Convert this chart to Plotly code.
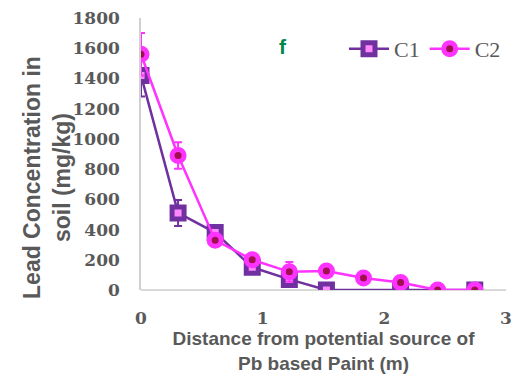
import plotly.graph_objects as go

distance_m = [0.0, 0.3048, 0.6096, 0.9144, 1.2192, 1.524, 1.8288, 2.1336, 2.4384, 2.7432]
c1_values = [1420, 510, 380, 150, 70, 0, None, 0, None, 0]
c1_errors = [140, 86, 20, 20, 20, 0, 0, 0, 0, 0]
c2_values = [1560, 890, 330, 200, 120, 125, 80, 50, 0, 0]
c2_errors = [140, 88, 20, 20, 65, 15, 10, 10, 0, 0]
y_ticks = [0, 200, 400, 600, 800, 1000, 1200, 1400, 1600, 1800]
x_ticks = [0, 1, 2, 3]

PURPLE = "#7030A0"
MAGENTA = "#FF33FF"
GREY = "#595959"

fig = go.Figure()
fig.add_trace(go.Scatter(
    x=distance_m, y=c1_values, name="C1", mode="lines+markers", connectgaps=True,
    line=dict(color=PURPLE, width=2.5),
    marker=dict(symbol="square", size=12, color="#FF88FF", line=dict(color=PURPLE, width=5)),
    error_y=dict(type="data", array=c1_errors, visible=True, color=PURPLE, thickness=2, width=4),
))
fig.add_trace(go.Scatter(
    x=distance_m, y=c2_values, name="C2", mode="lines+markers",
    line=dict(color=MAGENTA, width=2.5),
    marker=dict(symbol="circle", size=12, color="#A0104F", line=dict(color=MAGENTA, width=5)),
    error_y=dict(type="data", array=c2_errors, visible=True, color=MAGENTA, thickness=2, width=4),
))

fig.add_annotation(x=0.388, y=0.945, xref="paper", yref="paper", text="<b>f</b>",
                   showarrow=False,
                   font=dict(family="Liberation Sans", size=21, color="#00874B"))

fig.add_annotation(x=-0.258, y=0.415, xref="paper", yref="paper",
                   xanchor="center", yanchor="middle", textangle=-90, showarrow=False,
                   text="<b>Lead Concentration in<br>soil (mg/kg)</b>",
                   font=dict(family="Liberation Sans", size=23, color=GREY))

fig.update_layout(
    width=519, height=380,
    margin=dict(l=141, r=7, t=18, b=90),
    paper_bgcolor="white", plot_bgcolor="white",
    legend=dict(orientation="h", x=1.0, xanchor="right", y=0.886, yanchor="middle",
                font=dict(family="Liberation Serif", size=22, color=GREY),
                bgcolor="rgba(0,0,0,0)", itemwidth=40, tracegroupgap=0),
    xaxis=dict(range=[0, 3], tickvals=x_ticks, showgrid=False, zeroline=False,
               showline=False, ticks="", ticklabelstandoff=16,
               tickfont=dict(family="DejaVu Serif", size=17, color=GREY, weight="bold"),
               title=dict(text="<b>Distance from potential source of<br>Pb based Paint (m)</b>",
                          font=dict(family="Liberation Sans", size=19, color=GREY),
                          standoff=4)),
    yaxis=dict(range=[0, 1800], tickvals=y_ticks, showgrid=False, zeroline=True,
               zerolinecolor="#D9D9D9", zerolinewidth=1.5,
               showline=True, linecolor="#D0D0D0", linewidth=1.5, ticks="",
               ticklabelstandoff=16,
               tickfont=dict(family="DejaVu Serif", size=17, color=GREY, weight="bold")),
)

fig.write_html("out.html")
